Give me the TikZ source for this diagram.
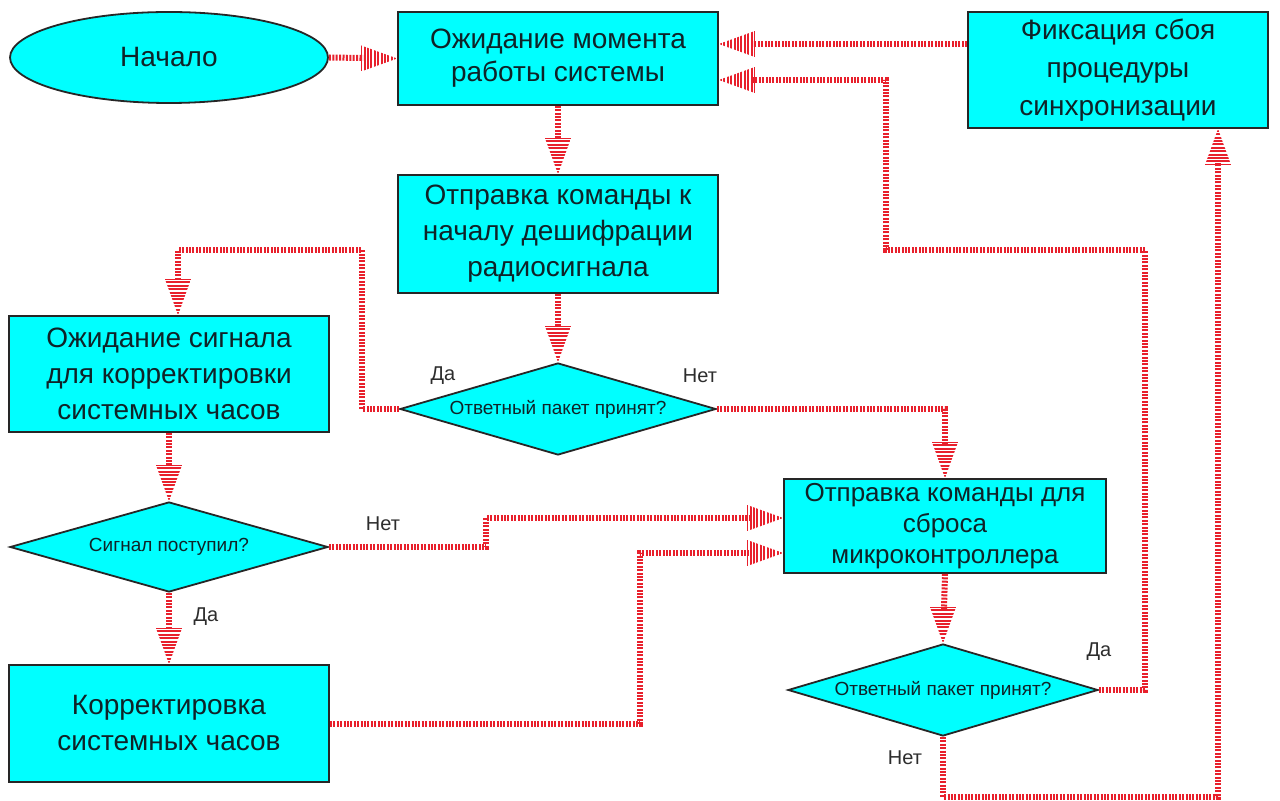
\documentclass[tikz,border=0pt]{standalone}
\usepackage{fontspec}
\setmainfont{Liberation Sans}
\usetikzlibrary{shapes.geometric,calc}
\definecolor{stripe}{RGB}{232,32,44}
\definecolor{boxfill}{RGB}{0,255,255}
\definecolor{ink}{RGB}{15,35,40}
\definecolor{labink}{RGB}{45,45,45}
\newcommand\stripehead[2]{%
  \begin{scope}[shift={#1},rotate=#2]
    \clip (0,0)--(-36,-13)--(-36,13)--cycle;
    \draw[stripe,line width=13pt,dash pattern=on 1pt off 0.7pt](-37,0)--(0,0);
  \end{scope}}
\begin{document}
\begin{tikzpicture}[x=0.5pt,y=-0.5pt,
  box/.style={draw=black!85,line width=0.9pt,fill=boxfill,text=ink,align=center,inner sep=0pt,font=\fontsize{14}{18}\selectfont},
  ell/.style={shape=ellipse,draw=black!85,line width=0.9pt,fill=boxfill,text=ink,inner sep=0pt,font=\fontsize{14}{18}\selectfont},
  diam/.style={shape=diamond,draw=black!85,line width=0.9pt,fill=boxfill,inner sep=0pt},
  dtext/.style={text=ink,inner sep=0pt,font=\fontsize{9.5}{11}\selectfont},
  lab/.style={text=labink,inner sep=0pt,font=\fontsize{10}{12}\selectfont},
  conn/.style={stripe,line width=3pt,dash pattern=on 1pt off 0.7pt},
  arr/.style={conn,shorten >=17pt}]
\useasboundingbox[fill=white] (0,0) rectangle (1280,801);

% nodes
\node[ell,minimum width=159pt,minimum height=45.5pt] (S) at (169,57.5) {Начало};
\node[box,minimum width=160pt,minimum height=46.5pt,font=\fontsize{14}{16.5}\selectfont] (A) at (558,58.5) {Ожидание момента\\работы системы};
\node[box,minimum width=150pt,minimum height=58pt,font=\fontsize{14}{19}\selectfont] (F) at (1118,70) {Фиксация сбоя\\процедуры\\синхронизации};
\node[box,minimum width=160pt,minimum height=59pt] (B) at (558,234) {Отправка команды к\\началу дешифрации\\радиосигнала};
\node[box,minimum width=160pt,minimum height=58pt] (C) at (169,374) {Ожидание сигнала\\для корректировки\\системных часов};
\node[box,minimum width=161pt,minimum height=47pt,font=\fontsize{13}{15.5}\selectfont] (E) at (945,526) {Отправка команды для\\сброса\\микроконтроллера};
\node[box,minimum width=160pt,minimum height=58.5pt] (G) at (169,723.5) {Корректировка\\системных часов};

\node[diam,minimum width=158pt,minimum height=46pt] (D1) at (558,409) {};
\node[dtext] (D1t) at (D1) {Ответный пакет принят?};
\node[diam,minimum width=159pt,minimum height=45pt] (D2) at (169,547) {};
\node[dtext] (D2t) at (D2) {Сигнал поступил?};
\node[diam,minimum width=155pt,minimum height=46pt] (D3) at (943,690) {};
\node[dtext] (D3t) at (D3) {Ответный пакет принят?};

% labels
\node[lab] (l1) at (443,376) {Да};
\node[lab] (l2) at (700,376) {Нет};
\node[lab] (l3) at (383,524) {Нет};
\node[lab] (l4) at (206,617) {Да};
\node[lab] (l5) at (1099,652) {Да};
\node[lab] (l6) at (905,758) {Нет};

% bend points
\coordinate (k4) at (362,250);
\coordinate (k7) at (486,518);
\coordinate (k9) at (640,553);
\coordinate (k11a) at (1145,250);
\coordinate (k11b) at (886,80);
\coordinate (k12) at (1218,797);

% connectors
\draw[arr] (S.east) -- (A.west); \stripehead{(A.west)}{0}
\draw[arr] (A.south) -- (B.north); \stripehead{(B.north)}{-90}
\draw[arr] (B.south) -- (D1.north); \stripehead{(D1.north)}{-90}
\draw[arr] (D1.west) -| (k4) -| ([xshift=4.5pt]C.north); \stripehead{([xshift=4.5pt]C.north)}{-90}
\draw[arr] (D1.east) -| (E.north); \stripehead{(E.north)}{-90}
\draw[arr] (C.south) -- (D2.north); \stripehead{(D2.north)}{-90}
\draw[arr] (D2.east) -| (k7) -- ([yshift=4pt]E.west); \stripehead{([yshift=4pt]E.west)}{0}
\draw[arr] (D2.south) -- (G.north); \stripehead{(G.north)}{-90}
\draw[arr] (G.east) -| (k9) -- ([yshift=-13.5pt]E.west); \stripehead{([yshift=-13.5pt]E.west)}{0}
\draw[arr] (E.south) -- (D3.north); \stripehead{(D3.north)}{-90}
\draw[arr] (D3.east) -| (k11a) -| (k11b) -- ([yshift=-10.75pt]A.east); \stripehead{([yshift=-10.75pt]A.east)}{180}
\draw[arr] (D3.south) |- (k12) -- ([xshift=50pt]F.south); \stripehead{([xshift=50pt]F.south)}{90}
\draw[arr] ([yshift=13pt]F.west) -- ([yshift=7.25pt]A.east); \stripehead{([yshift=7.25pt]A.east)}{180}
\end{tikzpicture}
\end{document}
